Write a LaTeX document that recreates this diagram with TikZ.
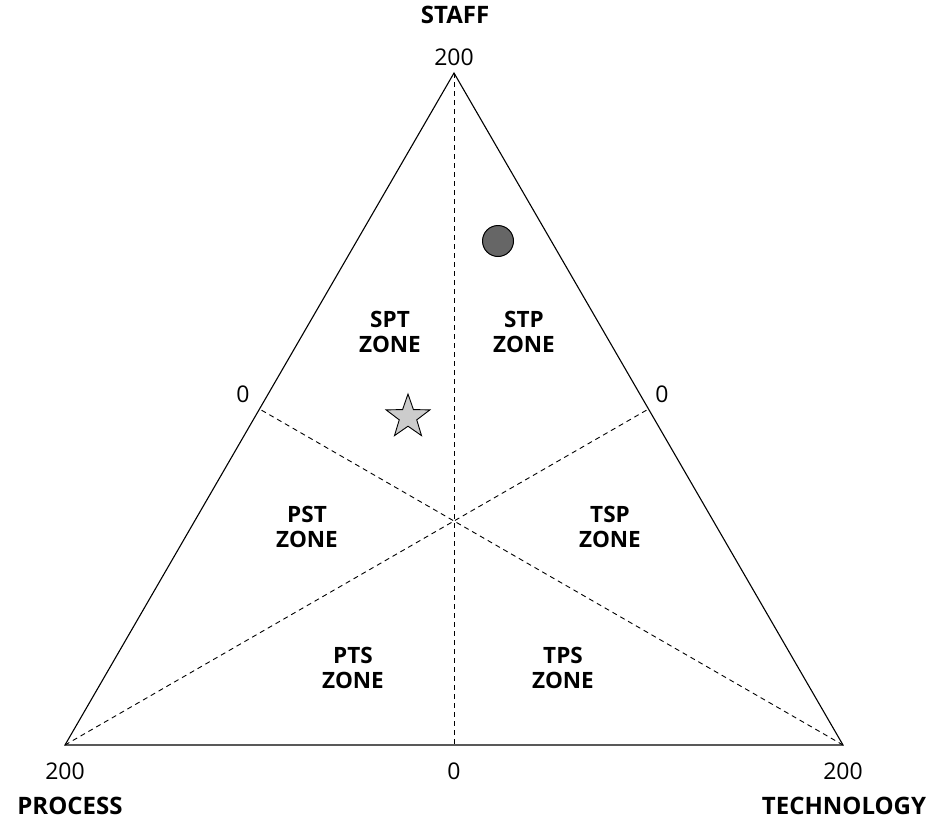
\documentclass[tikz,border=0pt]{standalone}
\usepackage{fontspec}
\setmainfont{Open Sans}
\usetikzlibrary{shapes.geometric,calc}
\begin{document}
\begin{tikzpicture}[x=1pt,y=-1pt,
  edge/.style={line width=1.1pt},
  divider/.style={line width=0.9pt,dash pattern=on 5pt off 4pt},
  zone/.style={font=\fontsize{22.5}{25}\selectfont\bfseries,align=center},
  num/.style={font=\fontsize{23}{26}\selectfont},
  axis/.style={font=\fontsize{24}{28}\selectfont\bfseries,inner sep=0pt}]
\useasboundingbox (0,0) rectangle (927,820);
\coordinate (S) at (454,73);
\coordinate (P) at (65,745);
\coordinate (T) at (843,745);
\coordinate (mPT) at (454,745);
\coordinate (mST) at ($(S)!0.5!(T)$);
\coordinate (mSP) at ($(S)!0.5!(P)$);
\draw[divider] (S) -- (mPT);
\draw[divider] (P) -- (mST);
\draw[divider] (T) -- (mSP);
\draw[edge,line join=miter] (S) -- (P) -- (T) -- cycle;
\node[num] (nS) at (454,57) {200};
\node[num] (nSP) at (243,394) {0};
\node[num] (nST) at (662,394) {0};
\node[num] (nP) at (65,771) {200};
\node[num] (nPT) at (454,771) {0};
\node[num] (nT) at (843,771) {200};
\node[axis] (aS) at (455,15) {STAFF};
\node[axis] (aP) at (70,806) {PROCESS};
\node[axis] (aT) at (844,806) {TECHNOLOGY};
\node[zone] (z1) at (390,332) {SPT\\ZONE};
\node[zone] (z2) at (524,332) {STP\\ZONE};
\node[zone] (z3) at (307,527) {PST\\ZONE};
\node[zone] (z4) at (610,527) {TSP\\ZONE};
\node[zone] (z5) at (353,668) {PTS\\ZONE};
\node[zone] (z6) at (563,668) {TPS\\ZONE};
\node[circle,draw,line width=1pt,fill=black!60,minimum size=31pt,inner sep=0pt] (dot) at (498,241) {};
\node[star,star points=5,star point ratio=2.5,draw,line width=0.9pt,fill=black!20,minimum size=46pt,inner sep=0pt] (st) at (408,417) {};
\end{tikzpicture}
\end{document}
